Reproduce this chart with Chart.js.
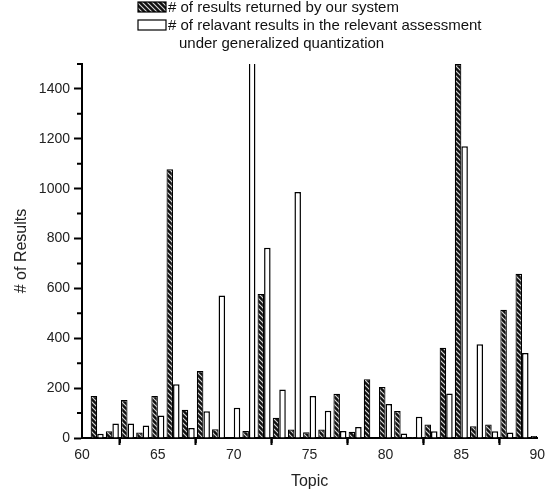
<!DOCTYPE html>
<html>
<head>
<meta charset="utf-8">
<script src="https://cdn.jsdelivr.net/npm/chart.js@4.4.1/dist/chart.umd.min.js"></script>
<style>
  html, body { margin: 0; padding: 0; background: #fff; }
</style>
</head>
<body>
<canvas id="chart" width="547" height="495"></canvas>
<script>
// topics on the x axis
const topics = [61, 62, 63, 64, 65, 66, 67, 68, 69, 70, 71, 72, 73, 74, 75,
  76, 77, 78, 79, 80, 81, 82, 83, 84, 85, 86, 87, 88, 89, 90];

// # of results returned by our system (hatched)
const returnedCounts = [168, 27, 152, 22, 168, 1078, 113, 269, 35, 0, 28, 578, 81, 34, 23,
  34, 177, 25, 236, 205, 108, 4, 54, 362, 1500, 47, 54, 514, 659, 8];

// # of relevant results under generalized quantization (white)
const relevantCounts = [17, 58, 58, 50, 90, 216, 40, 107, 572, 121, 1700, 763, 195, 987, 168,
  109, 28, 44, 0, 136, 18, 85, 27, 178, 1170, 376, 27, 22, 341, 0];

const seriesLabels = [
  "# of results returned by our system",
  "# of relavant results in the relevant assessment",
];
const legendExtraLine = "under generalized quantization";

const xTicks = [60, 65, 70, 75, 80, 85, 90];
const xMinorTicks = [62.5, 67.5, 72.5, 77.5, 82.5, 87.5];
const yTicks = [0, 200, 400, 600, 800, 1000, 1200, 1400];
const yMinorTicks = [100, 300, 500, 700, 900, 1100, 1300, 1500];

const FONT = "'Liberation Sans', Arial, sans-serif";

const canvas = document.getElementById("chart");
const ctx = canvas.getContext("2d");

function makeHatch(context) {
  const tile = document.createElement("canvas");
  tile.width = 5;
  tile.height = 5;
  const g = tile.getContext("2d");
  g.fillStyle = "#111";
  g.fillRect(0, 0, 5, 5);
  g.strokeStyle = "#d8d8d8";
  g.lineWidth = 1.1;
  g.beginPath();
  g.moveTo(-1, -1);
  g.lineTo(6, 6);
  g.moveTo(-1, 4);
  g.lineTo(1, 6);
  g.moveTo(4, -1);
  g.lineTo(6, 1);
  g.stroke();
  return context.createPattern(tile, "repeat");
}
const hatch = makeHatch(ctx);

// short ticks between the labelled ones, plus the legend block on top
const extrasPlugin = {
  id: "extras",
  afterDraw(chart) {
    const c = chart.ctx;
    const xs = chart.scales.x;
    const ys = chart.scales.y;
    const area = chart.chartArea;
    c.save();
    c.strokeStyle = "#000";
    c.lineWidth = 2;
    c.beginPath();
    xMinorTicks.forEach((v) => {
      const px = xs.getPixelForValue(v);
      c.moveTo(px, area.bottom);
      c.lineTo(px, area.bottom + 5);
    });
    yMinorTicks.forEach((v) => {
      const py = ys.getPixelForValue(v);
      c.moveTo(area.left, py);
      c.lineTo(area.left - 5, py);
    });
    c.stroke();

    // legend
    const bx = 138;
    const tx = 168;
    c.font = "15px " + FONT;
    c.textBaseline = "alphabetic";
    c.lineWidth = 1.2;
    c.fillStyle = hatch;
    c.fillRect(bx, 2, 28, 10);
    c.strokeRect(bx, 2, 28, 10);
    c.fillStyle = "#fff";
    c.fillRect(bx, 20, 28, 10);
    c.strokeRect(bx, 20, 28, 10);
    c.fillStyle = "#111";
    c.fillText(seriesLabels[0], tx, 12);
    c.fillText(seriesLabels[1], tx, 30);
    c.fillText(legendExtraLine, tx + 11, 48);
    c.restore();
  },
};

new Chart(ctx, {
  type: "bar",
  data: {
    datasets: [
      {
        label: seriesLabels[0],
        data: topics.map((t, i) => ({ x: t, y: returnedCounts[i] })),
        backgroundColor: hatch,
        borderColor: "#000",
        borderWidth: 1.2,
      },
      {
        label: seriesLabels[1],
        data: topics.map((t, i) => ({ x: t, y: relevantCounts[i] })),
        backgroundColor: "#fff",
        borderColor: "#000",
        borderWidth: 1.5,
      },
    ],
  },
  options: {
    responsive: false,
    animation: false,
    devicePixelRatio: 1,
    categoryPercentage: 0.86,
    barPercentage: 1,
    layout: { padding: { top: 64, right: 9, left: 0, bottom: 0 } },
    plugins: {
      legend: { display: false },
      tooltip: { enabled: false },
    },
    scales: {
      x: {
        type: "linear",
        min: 60,
        max: 90,
        offset: false,
        afterBuildTicks: (scale) => {
          scale.ticks = xTicks.map((v) => ({ value: v }));
        },
        afterFit: (scale) => {
          scale.height = 57;
        },
        grid: {
          display: true,
          drawOnChartArea: false,
          drawTicks: true,
          tickLength: 7,
          tickWidth: 2,
          tickColor: "#000",
        },
        border: { display: true, color: "#000", width: 2 },
        ticks: {
          color: "#222",
          padding: 2,
          maxRotation: 0,
          font: { family: FONT, size: 14 },
          callback: (value) => String(value),
        },
        title: {
          display: true,
          text: "Topic",
          color: "#222",
          font: { family: FONT, size: 16 },
          padding: { top: 0, bottom: 4 },
        },
      },
      y: {
        min: 0,
        max: 1500,
        afterBuildTicks: (scale) => {
          scale.ticks = yTicks.map((v) => ({ value: v }));
        },
        afterFit: (scale) => {
          scale.width = 82;
        },
        grid: {
          display: true,
          drawOnChartArea: false,
          drawTicks: true,
          tickLength: 8,
          tickWidth: 2,
          tickColor: "#000",
        },
        border: { display: true, color: "#000", width: 2 },
        ticks: {
          color: "#222",
          padding: 4,
          font: { family: FONT, size: 14 },
          callback: (value) => String(value),
        },
        title: {
          display: true,
          text: "# of Results",
          color: "#222",
          font: { family: FONT, size: 16 },
          padding: { top: 12, bottom: 0 },
        },
      },
    },
  },
  plugins: [extrasPlugin],
});
</script>
</body>
</html>
